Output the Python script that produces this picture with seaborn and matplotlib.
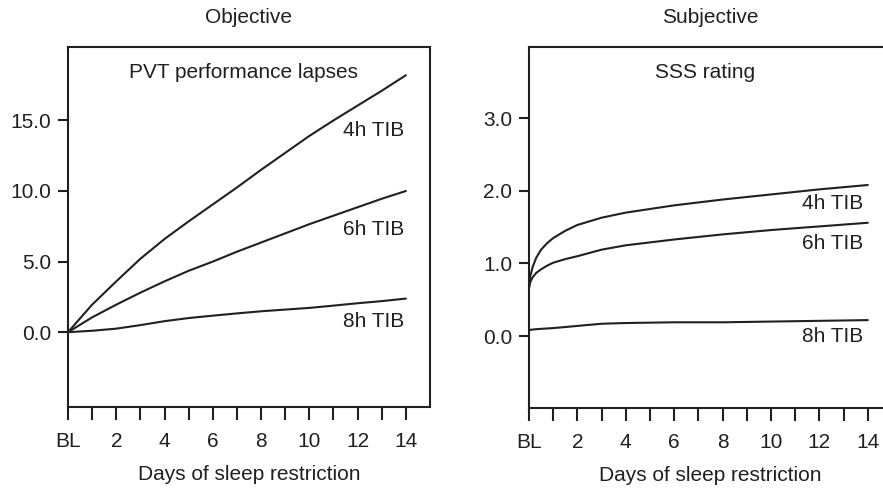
import numpy as np
import pandas as pd
import matplotlib
matplotlib.use("Agg")
import matplotlib.pyplot as plt
import seaborn as sns

# ---- data ----
days_obj = [0, 1, 2, 3, 4, 5, 6, 7, 8, 9, 10, 11, 12, 13, 14]
pvt_4h = [0, 1.95, 3.6, 5.2, 6.6, 7.85, 9.05, 10.25, 11.5, 12.7, 13.9, 15.0, 16.05, 17.1, 18.2]
pvt_6h = [0, 1.05, 1.95, 2.8, 3.6, 4.35, 5.0, 5.7, 6.35, 7.0, 7.65, 8.25, 8.85, 9.45, 10.0]
pvt_8h = [0, 0.1, 0.25, 0.5, 0.78, 1.0, 1.17, 1.33, 1.48, 1.6, 1.72, 1.88, 2.05, 2.2, 2.38]

days_subj = [0, 0.05, 0.15, 0.3, 0.5, 0.75, 1, 1.5, 2, 3, 4, 6, 8, 10, 12, 14]
sss_4h = [0.68, 0.82, 0.95, 1.08, 1.19, 1.28, 1.35, 1.45, 1.53, 1.63, 1.70, 1.80, 1.88, 1.95, 2.02, 2.08]
sss_6h = [0.66, 0.74, 0.81, 0.87, 0.92, 0.97, 1.01, 1.06, 1.10, 1.19, 1.25, 1.33, 1.40, 1.46, 1.51, 1.56]
sss_8h = [0.08, 0.085, 0.09, 0.095, 0.10, 0.105, 0.11, 0.125, 0.14, 0.17, 0.18, 0.19, 0.19, 0.20, 0.21, 0.22]

groups = ["4h TIB", "6h TIB", "8h TIB"]
x_ticks = list(range(0, 15))
x_ticklabels = ["BL" if d == 0 else (str(d) if d % 2 == 0 else "") for d in x_ticks]
obj_yticks = [0.0, 5.0, 10.0, 15.0]
subj_yticks = [0.0, 1.0, 2.0, 3.0]

df_obj = pd.DataFrame({
    "day": days_obj * 3,
    "value": pvt_4h + pvt_6h + pvt_8h,
    "group": sum([[g] * len(days_obj) for g in groups], []),
})
df_subj = pd.DataFrame({
    "day": days_subj * 3,
    "value": sss_4h + sss_6h + sss_8h,
    "group": sum([[g] * len(days_subj) for g in groups], []),
})

sns.set_style("ticks")
plt.rcParams["font.family"] = ["Liberation Sans", "DejaVu Sans"]
ink = "#231f20"
plt.rcParams["text.color"] = ink
plt.rcParams["axes.edgecolor"] = ink
plt.rcParams["xtick.color"] = ink
plt.rcParams["ytick.color"] = ink
plt.rcParams["axes.labelcolor"] = ink

fs = 15
fig = plt.figure(figsize=(8.83, 4.88), dpi=100)
ax1 = fig.add_axes([68 / 883, 81 / 488, 362 / 883, 360 / 488])
ax2 = fig.add_axes([529 / 883, 80 / 488, 363 / 883, 361 / 488])

palette = {g: ink for g in groups}
sns.lineplot(data=df_obj, x="day", y="value", hue="group", palette=palette,
             estimator=None, sort=False, legend=False, linewidth=1.5, ax=ax1)
sns.lineplot(data=df_subj, x="day", y="value", hue="group", palette=palette,
             estimator=None, sort=False, legend=False, linewidth=1.5, ax=ax2)

def style(ax, ylim, yticks, title, inner):
    ax.set_xlim(0, 15)
    ax.set_ylim(*ylim)
    ax.set_xticks(x_ticks)
    ax.set_xticklabels(x_ticklabels, fontsize=fs)
    ax.set_yticks(yticks)
    ax.set_yticklabels([f"{v:.1f}" for v in yticks], fontsize=fs)
    ax.tick_params(axis="x", length=9, width=1.5, pad=9, direction="out")
    ax.tick_params(axis="y", length=7, width=1.5, pad=5, direction="out")
    for s in ax.spines.values():
        s.set_visible(True)
        s.set_linewidth(1.5)
    ax.set_xlabel("Days of sleep restriction", fontsize=fs)
    ax.xaxis.set_label_coords(0.5, -0.16)
    ax.set_ylabel("")
    ax.text(0.5, 1 + 29 / 360, title, transform=ax.transAxes, ha="center", va="center", fontsize=fs)
    ax.text(0.485, 0.93, inner, transform=ax.transAxes, ha="center", va="center", fontsize=fs)

style(ax1, (-5.3, 20.2), obj_yticks, "Objective", "PVT performance lapses")
style(ax2, (-0.99, 3.98), subj_yticks, "Subjective", "SSS rating")

# curve labels
ax1.text(13.95, 14.3, "4h TIB", ha="right", va="center", fontsize=fs)
ax1.text(13.95, 7.3, "6h TIB", ha="right", va="center", fontsize=fs)
ax1.text(13.95, 0.73, "8h TIB", ha="right", va="center", fontsize=fs)
ax2.text(13.8, 1.83, "4h TIB", ha="right", va="center", fontsize=fs)
ax2.text(13.8, 1.27, "6h TIB", ha="right", va="center", fontsize=fs)
ax2.text(13.8, 0.0, "8h TIB", ha="right", va="center", fontsize=fs)

fig.savefig("out.png", dpi=100)
